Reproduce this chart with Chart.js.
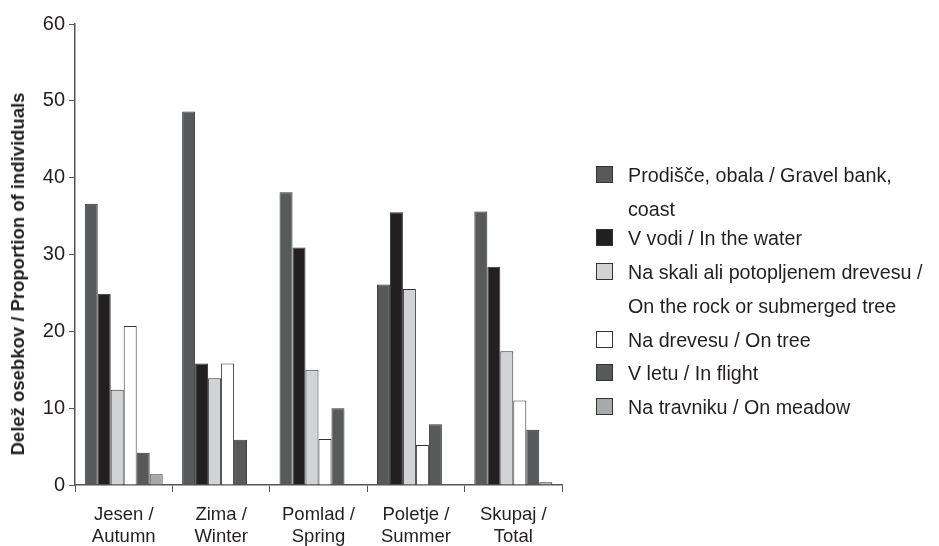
<!DOCTYPE html>
<html>
<head>
<meta charset="utf-8">
<script src="https://cdn.jsdelivr.net/npm/chart.js@4/dist/chart.umd.min.js"></script>
<style>
  html, body { margin: 0; padding: 0; background: #fff; }
  #wrap { position: relative; width: 939px; height: 546px; font-family: "Liberation Sans", Arial, sans-serif; color: #231f20; }
  #c { position: absolute; left: 0; top: 0; }
  #ytitle { position: absolute; left: 18px; top: 274px; transform: translate(-50%, -50%) rotate(-90deg); white-space: nowrap; font-weight: bold; font-size: 18.5px; }
  .lg { position: absolute; left: 596px; font-size: 19.7px; }
  .lg .box { position: absolute; left: 0; width: 15px; height: 15px; border: 1px solid #333; }
  .lg .txt { position: absolute; left: 32px; white-space: nowrap; line-height: 34px; }
</style>
</head>
<body>
<div id="wrap">
  <canvas id="c" width="939" height="546"></canvas>
  <div id="ytitle">Delež osebkov / Proportion of individuals</div>
  <div id="legend"></div>
</div>
<script>
const categories = [["Jesen /", "Autumn"], ["Zima /", "Winter"], ["Pomlad /", "Spring"], ["Poletje /", "Summer"], ["Skupaj /", "Total"]];
const seriesNames = [
  ["Prodišče, obala / Gravel bank,", "coast"],
  ["V vodi / In the water"],
  ["Na skali ali potopljenem drevesu /", "On the rock or submerged tree"],
  ["Na drevesu / On tree"],
  ["V letu / In flight"],
  ["Na travniku / On meadow"]
];
const gravelBank = [36.6, 48.6, 38.1, 26.1, 35.6];
const inWater = [24.9, 15.8, 30.9, 35.5, 28.4];
const onRock = [12.4, 13.9, 15.0, 25.5, 17.4];
const onTree = [20.7, 15.8, 6.0, 5.2, 11.0];
const inFlight = [4.2, 5.9, 10.0, 7.9, 7.2];
const onMeadow = [1.4, 0, 0, 0, 0.35];
const yTicks = [0, 10, 20, 30, 40, 50, 60];

const colors = ["#58595b", "#231f20", "#d1d3d4", "#ffffff", "#58595b", "#a7a9ac"];
const seriesData = [gravelBank, inWater, onRock, onTree, inFlight, onMeadow];

const datasets = seriesData.map((d, i) => ({
  label: seriesNames[i].join(" "),
  data: d,
  backgroundColor: colors[i],
  borderColor: "#333333",
  borderWidth: 1,
  barPercentage: 1.0,
  categoryPercentage: 0.8
}));

// HTML legend
const legendTops = [158, 221, 255, 323, 356, 390];
const lg = document.getElementById("legend");
seriesNames.forEach((lines, i) => {
  const d = document.createElement("div");
  d.className = "lg";
  d.style.top = legendTops[i] + "px";
  const b = document.createElement("div");
  b.className = "box";
  b.style.background = colors[i];
  b.style.top = "8px";
  d.appendChild(b);
  const t = document.createElement("div");
  t.className = "txt";
  t.style.top = "0px";
  t.innerHTML = lines.join("<br>");
  d.appendChild(t);
  lg.appendChild(d);
});

new Chart(document.getElementById("c"), {
  type: "bar",
  data: { labels: categories, datasets },
  options: {
    responsive: false,
    animation: false,
    devicePixelRatio: 1,
    layout: { padding: { left: 0, top: 24, right: 377, bottom: 0 } },
    plugins: { legend: { display: false }, tooltip: { enabled: false } },
    scales: {
      x: {
        grid: { display: true, offset: true, drawOnChartArea: false, drawTicks: true, tickLength: 7, color: "#555" },
        border: { display: true, color: "#555", width: 1.5 },
        ticks: { color: "#231f20", font: { family: "Liberation Sans", size: 18.5, lineHeight: 1.2 }, padding: 12, maxRotation: 0 },
        afterFit: s => { s.height = 61; }
      },
      y: {
        min: 0, max: 60,
        afterBuildTicks: s => { s.ticks = yTicks.map(v => ({ value: v })); },
        grid: { display: true, drawOnChartArea: false, drawTicks: true, tickLength: 6, color: "#555" },
        border: { display: true, color: "#555", width: 1.5 },
        ticks: { color: "#231f20", font: { family: "Liberation Sans", size: 20 }, padding: 4 },
        afterFit: s => { s.width = 75; }
      }
    }
  }
});
</script>
</body>
</html>
